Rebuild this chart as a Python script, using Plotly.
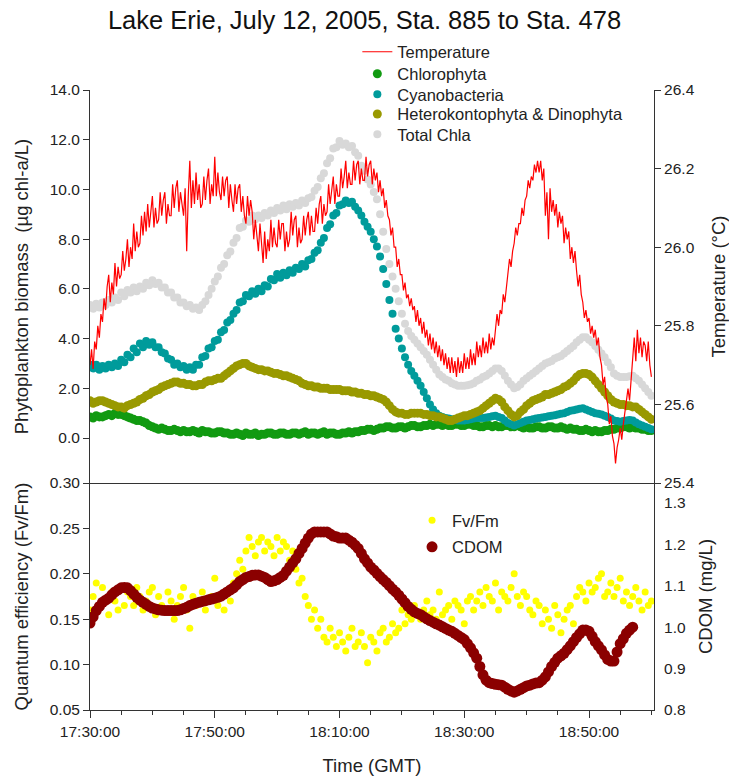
import pandas as pd
import plotly.graph_objects as go

# ---------------- data ----------------
t0 = pd.Timestamp("2005-07-12 17:30:00")
t_end = pd.Timestamp("2005-07-12 19:00:25")

# temperature (deg C), 15 s samples from 17:30:00
temperature_c = [
    25.70, 25.74, 25.69, 25.76, 25.74, 25.80, 25.77, 25.83,
    25.81, 25.87, 25.84, 25.90, 25.93, 25.86, 25.91, 25.88,
    25.96, 25.90, 25.95, 25.92, 25.93, 25.99, 25.94, 25.97,
    26.02, 25.95, 26.00, 25.97, 26.06, 25.99, 26.04, 26.00,
    26.01, 26.08, 26.03, 26.09, 26.04, 26.11, 26.05, 26.09,
    26.13, 26.05, 26.10, 26.06, 26.07, 26.14, 26.08, 26.12,
    26.14, 26.06, 26.11, 26.08, 26.08, 26.16, 26.10, 26.15,
    26.17, 26.09, 26.14, 26.11, 26.08, 26.15, 25.99, 26.13,
    26.22, 26.10, 26.17, 26.11, 26.19, 26.12, 26.16, 26.10,
    26.11, 26.18, 26.12, 26.17, 26.20, 26.11, 26.16, 26.13,
    26.23, 26.13, 26.19, 26.14, 26.12, 26.18, 26.13, 26.17,
    26.18, 26.10, 26.16, 26.12, 26.09, 26.16, 26.11, 26.15,
    26.16, 26.09, 26.13, 26.08, 26.06, 26.13, 26.08, 26.12,
    26.09, 26.02, 26.07, 26.03, 25.99, 26.06, 26.01, 25.96,
    26.04, 25.97, 26.02, 25.99, 26.07, 26.00, 26.05, 26.01,
    26.00, 26.07, 26.02, 26.06, 26.06, 25.99, 26.04, 26.00,
    26.02, 26.09, 26.03, 26.07, 26.08, 26.00, 26.05, 26.01,
    26.02, 26.08, 26.03, 26.07, 26.09, 26.03, 26.08, 26.04,
    26.04, 26.10, 26.06, 26.11, 26.13, 26.06, 26.11, 26.08,
    26.09, 26.16, 26.11, 26.14, 26.18, 26.11, 26.16, 26.13,
    26.13, 26.20, 26.15, 26.18, 26.22, 26.15, 26.19, 26.16,
    26.16, 26.22, 26.17, 26.21, 26.22, 26.16, 26.20, 26.17,
    26.17, 26.23, 26.18, 26.21, 26.22, 26.16, 26.20, 26.17,
    26.19, 26.14, 26.17, 26.13, 26.15, 26.10, 26.12, 26.08,
    26.07, 26.03, 26.05, 26.00, 26.00, 25.95, 25.97, 25.93,
    25.93, 25.89, 25.91, 25.87, 25.88, 25.85, 25.87, 25.84,
    25.85, 25.81, 25.84, 25.80, 25.82, 25.78, 25.81, 25.77,
    25.79, 25.75, 25.78, 25.74, 25.77, 25.73, 25.76, 25.72,
    25.75, 25.71, 25.74, 25.70, 25.73, 25.69, 25.72, 25.68,
    25.72, 25.68, 25.71, 25.67, 25.72, 25.68, 25.71, 25.68,
    25.73, 25.69, 25.72, 25.69, 25.74, 25.70, 25.73, 25.70,
    25.76, 25.72, 25.75, 25.72, 25.77, 25.73, 25.76, 25.73,
    25.78, 25.74, 25.77, 25.75, 25.79, 25.83, 25.80, 25.84,
    25.83, 25.88, 25.86, 25.90, 25.93, 25.97, 25.95, 25.99,
    26.01, 26.05, 26.03, 26.06, 26.06, 26.10, 26.08, 26.12,
    26.13, 26.17, 26.15, 26.18, 26.17, 26.21, 26.19, 26.22,
    26.19, 26.22, 26.17, 26.20, 26.08, 26.14, 26.02, 26.15,
    26.09, 26.12, 26.08, 26.11, 26.05, 26.09, 26.06, 26.08,
    26.01, 26.05, 26.02, 26.04, 25.97, 26.00, 25.96, 25.99,
    25.94, 25.90, 25.93, 25.88, 25.86, 25.82, 25.84, 25.81,
    25.82, 25.78, 25.80, 25.77, 25.79, 25.75, 25.77, 25.72,
    25.70, 25.65, 25.67, 25.62, 25.60, 25.55, 25.57, 25.52,
    25.50, 25.45, 25.49, 25.51, 25.54, 25.51, 25.55, 25.58,
    25.60, 25.64, 25.61, 25.67, 25.72, 25.77, 25.71, 25.79,
    25.73, 25.77, 25.72, 25.76, 25.75, 25.71, 25.76, 25.70,
    25.67,
]

# Cyanobacteria (ug chl-a/L), 30 s samples
cyanobacteria = [
    2.95, 2.80, 2.95, 2.75, 2.90, 2.80, 2.95, 2.85, 3.00, 2.90,
    3.15, 3.05, 3.35, 3.25, 3.60, 3.45, 3.80, 3.65, 3.90, 3.75,
    3.85, 3.65, 3.65, 3.45, 3.40, 3.20, 3.15, 2.95, 3.00, 2.85,
    2.90, 2.75, 2.85, 2.75, 2.95, 2.95, 3.25, 3.30, 3.60, 3.65,
    3.90, 3.95, 4.25, 4.35, 4.65, 4.75, 5.00, 5.15, 5.45, 5.50,
    5.75, 5.70, 5.90, 5.80, 6.00, 5.90, 6.15, 6.10, 6.40, 6.35,
    6.60, 6.45, 6.65, 6.55, 6.75, 6.65, 6.85, 6.80, 7.00, 6.90,
    7.15, 7.20, 7.45, 7.55, 7.85, 8.05, 8.45, 8.60, 8.95, 9.05,
    9.35, 9.40, 9.55, 9.45, 9.50, 9.30, 9.15, 8.95, 8.70, 8.50,
    8.30, 8.00, 7.70, 7.30, 6.80, 6.20, 5.55, 5.00, 4.40, 4.00,
    3.60, 3.25, 2.95, 2.70, 2.50, 2.30, 2.10, 1.85, 1.60, 1.35,
    1.15, 1.00, 0.90, 0.85, 0.80, 0.78, 0.75, 0.72, 0.70, 0.70,
    0.70, 0.72, 0.75, 0.78, 0.80, 0.80, 0.80, 0.82, 0.85, 0.88,
    0.90, 0.85, 0.80, 0.70, 0.60, 0.55, 0.50, 0.55, 0.60, 0.65,
    0.70, 0.72, 0.75, 0.78, 0.80, 0.82, 0.85, 0.88, 0.90, 0.92,
    0.95, 0.98, 1.00, 1.05, 1.10, 1.12, 1.15, 1.18, 1.20, 1.15,
    1.10, 1.05, 1.00, 0.98, 0.95, 0.90, 0.85, 0.78, 0.70, 0.68,
    0.65, 0.68, 0.70, 0.72, 0.70, 0.62, 0.55, 0.50, 0.45, 0.40,
    0.35,
]

# Total chlorophyll a (ug chl-a/L), 30 s samples
total_chla = [
    5.35, 5.20, 5.40, 5.25, 5.45, 5.35, 5.55, 5.45, 5.65, 5.55,
    5.85, 5.70, 5.95, 5.85, 6.05, 5.90, 6.10, 6.00, 6.25, 6.15,
    6.35, 6.20, 6.25, 6.05, 6.05, 5.85, 5.85, 5.65, 5.65, 5.45,
    5.45, 5.30, 5.35, 5.20, 5.25, 5.15, 5.35, 5.50, 5.75, 6.00,
    6.30, 6.50, 6.85, 7.00, 7.35, 7.50, 7.85, 8.05, 8.45, 8.50,
    8.75, 8.70, 8.95, 8.80, 8.95, 8.85, 9.05, 8.95, 9.15, 9.05,
    9.25, 9.15, 9.35, 9.20, 9.40, 9.30, 9.45, 9.35, 9.55, 9.45,
    9.65, 9.70, 9.95, 10.10, 10.45, 10.65, 11.05, 11.25, 11.65, 11.70,
    11.95, 11.80, 11.85, 11.70, 11.75, 11.50, 11.35, 10.95, 10.75, 10.40,
    10.20, 9.90, 9.60, 9.00, 8.30, 7.60, 7.00, 6.50, 6.00, 5.50,
    5.00, 4.60, 4.30, 4.10, 3.95, 3.80, 3.65, 3.50, 3.35, 3.15,
    2.95, 2.75, 2.55, 2.45, 2.35, 2.30, 2.20, 2.15, 2.10, 2.10,
    2.10, 2.12, 2.15, 2.20, 2.30, 2.35, 2.45, 2.50, 2.60, 2.70,
    2.80, 2.80, 2.70, 2.50, 2.30, 2.15, 2.00, 2.05, 2.15, 2.30,
    2.40, 2.50, 2.60, 2.70, 2.80, 2.90, 3.00, 3.05, 3.10, 3.20,
    3.25, 3.30, 3.40, 3.50, 3.60, 3.70, 3.85, 3.95, 4.05, 4.05,
    3.95, 3.85, 3.70, 3.55, 3.40, 3.25, 3.05, 2.85, 2.60, 2.50,
    2.45, 2.45, 2.45, 2.48, 2.50, 2.40, 2.30, 2.15, 2.00, 1.85,
    1.70,
]

# Chlorophyta (ug chl-a/L), 30 s samples
chlorophyta = [
    0.85, 0.80, 0.90, 0.85, 0.85, 0.90, 0.95, 0.90, 1.00, 0.95,
    0.95, 0.90, 0.85, 0.80, 0.75, 0.70, 0.70, 0.65, 0.60, 0.50,
    0.45, 0.40, 0.35, 0.40, 0.35, 0.30, 0.30, 0.35, 0.30, 0.25,
    0.30, 0.25, 0.25, 0.30, 0.25, 0.20, 0.30, 0.25, 0.25, 0.20,
    0.20, 0.25, 0.25, 0.20, 0.20, 0.15, 0.15, 0.20, 0.15, 0.10,
    0.20, 0.15, 0.15, 0.20, 0.10, 0.15, 0.15, 0.20, 0.20, 0.15,
    0.15, 0.20, 0.20, 0.15, 0.15, 0.20, 0.20, 0.15, 0.20, 0.25,
    0.15, 0.20, 0.20, 0.15, 0.20, 0.25, 0.15, 0.20, 0.20, 0.15,
    0.15, 0.20, 0.20, 0.25, 0.20, 0.25, 0.25, 0.30, 0.30, 0.35,
    0.35, 0.30, 0.35, 0.40, 0.40, 0.45, 0.45, 0.40, 0.40, 0.45,
    0.45, 0.40, 0.45, 0.50, 0.50, 0.45, 0.45, 0.50, 0.50, 0.55,
    0.50, 0.55, 0.55, 0.50, 0.55, 0.50, 0.50, 0.55, 0.55, 0.50,
    0.50, 0.55, 0.55, 0.50, 0.50, 0.45, 0.45, 0.50, 0.50, 0.45,
    0.50, 0.45, 0.45, 0.50, 0.50, 0.45, 0.45, 0.50, 0.45, 0.40,
    0.45, 0.40, 0.40, 0.45, 0.45, 0.40, 0.40, 0.45, 0.45, 0.40,
    0.40, 0.45, 0.40, 0.35, 0.40, 0.35, 0.35, 0.30, 0.30, 0.35,
    0.30, 0.25, 0.30, 0.25, 0.25, 0.30, 0.30, 0.35, 0.35, 0.40,
    0.40, 0.45, 0.45, 0.40, 0.45, 0.40, 0.40, 0.35, 0.35, 0.30,
    0.30,
]

# Heterokontophyta & Dinophyta (ug chl-a/L), 30 s samples
heterokontophyta_dinophyta = [
    1.50, 1.40, 1.45, 1.50, 1.50, 1.45, 1.40, 1.35, 1.30, 1.25,
    1.25, 1.20, 1.30, 1.35, 1.40, 1.45, 1.55, 1.60, 1.70, 1.75,
    1.85, 1.90, 1.95, 2.05, 2.10, 2.15, 2.20, 2.25, 2.25, 2.20,
    2.20, 2.15, 2.15, 2.10, 2.10, 2.15, 2.15, 2.25, 2.30, 2.30,
    2.35, 2.40, 2.40, 2.50, 2.60, 2.70, 2.80, 2.90, 2.95, 3.00,
    3.00, 2.90, 2.85, 2.80, 2.75, 2.75, 2.70, 2.70, 2.65, 2.60,
    2.60, 2.55, 2.50, 2.50, 2.45, 2.40, 2.35, 2.30, 2.20, 2.15,
    2.10, 2.10, 2.05, 2.05, 2.00, 2.00, 2.00, 1.95, 1.95, 1.95,
    1.95, 1.90, 1.90, 1.90, 1.85, 1.85, 1.80, 1.80, 1.75, 1.75,
    1.70, 1.70, 1.65, 1.60, 1.55, 1.45, 1.30, 1.15, 1.05, 1.00,
    1.00, 0.95, 0.95, 1.00, 1.00, 1.00, 1.00, 0.95, 0.95, 0.90,
    0.90, 0.85, 0.85, 0.80, 0.75, 0.70, 0.70, 0.75, 0.80, 0.85,
    0.90, 0.90, 0.95, 1.00, 1.05, 1.10, 1.20, 1.30, 1.40, 1.50,
    1.60, 1.55, 1.45, 1.25, 1.10, 0.95, 0.85, 0.90, 1.05, 1.15,
    1.30, 1.40, 1.50, 1.55, 1.60, 1.65, 1.75, 1.75, 1.80, 1.85,
    1.90, 1.95, 2.05, 2.10, 2.20, 2.30, 2.45, 2.55, 2.60, 2.60,
    2.55, 2.45, 2.30, 2.15, 2.00, 1.85, 1.70, 1.55, 1.45, 1.40,
    1.35, 1.35, 1.30, 1.30, 1.25, 1.25, 1.15, 1.05, 0.95, 0.85,
    0.75,
]

# Photosynthetic quantum efficiency Fv/Fm, 30 s samples
fv_fm = [
    0.160, 0.175, 0.190, 0.165, 0.185, 0.170, 0.155, 0.180, 0.170, 0.160,
    0.185, 0.165, 0.180, 0.175, 0.165, 0.185, 0.175, 0.160, 0.170, 0.180,
    0.185, 0.155, 0.175, 0.165, 0.160, 0.180, 0.170, 0.150, 0.165, 0.175,
    0.185, 0.160, 0.140, 0.175, 0.165, 0.170, 0.180, 0.160, 0.170, 0.175,
    0.195, 0.165, 0.175, 0.160, 0.180, 0.170, 0.190, 0.200, 0.215, 0.205,
    0.225, 0.240, 0.230, 0.220, 0.235, 0.240, 0.225, 0.235, 0.230, 0.220,
    0.240, 0.225, 0.235, 0.230, 0.215, 0.225, 0.205, 0.190, 0.195, 0.175,
    0.165, 0.150, 0.160, 0.140, 0.150, 0.130, 0.125, 0.140, 0.130, 0.120,
    0.135, 0.125, 0.115, 0.130, 0.140, 0.120, 0.125, 0.135, 0.120, 0.102,
    0.130, 0.125, 0.115, 0.135, 0.140, 0.125, 0.130, 0.145, 0.135, 0.140,
    0.160, 0.145, 0.155, 0.150, 0.165, 0.155, 0.150, 0.160, 0.170, 0.155,
    0.160, 0.150, 0.180, 0.155, 0.160, 0.165, 0.150, 0.170, 0.165, 0.160,
    0.145, 0.170, 0.175, 0.160, 0.170, 0.180, 0.165, 0.185, 0.175, 0.170,
    0.190, 0.160, 0.180, 0.175, 0.170, 0.185, 0.200, 0.175, 0.165, 0.180,
    0.175, 0.160, 0.155, 0.170, 0.165, 0.145, 0.160, 0.150, 0.140, 0.165,
    0.155, 0.135, 0.150, 0.160, 0.165, 0.145, 0.175, 0.185, 0.180, 0.170,
    0.190, 0.180, 0.185, 0.195, 0.200, 0.175, 0.180, 0.190, 0.175, 0.185,
    0.195, 0.170, 0.180, 0.165, 0.175, 0.185, 0.170, 0.160, 0.180, 0.165,
    0.170,
]

# CDOM (mg/L), 30 s samples
cdom = [
    1.010, 1.025, 1.040, 1.050, 1.060, 1.065, 1.070, 1.078, 1.085, 1.090,
    1.095, 1.096, 1.095, 1.088, 1.080, 1.072, 1.065, 1.060, 1.055, 1.050,
    1.046, 1.044, 1.042, 1.041, 1.040, 1.040, 1.040, 1.040, 1.040, 1.042,
    1.045, 1.048, 1.052, 1.055, 1.058, 1.060, 1.062, 1.064, 1.066, 1.068,
    1.070, 1.072, 1.075, 1.080, 1.085, 1.090, 1.095, 1.102, 1.110, 1.115,
    1.120, 1.122, 1.125, 1.126, 1.126, 1.123, 1.120, 1.115, 1.110, 1.112,
    1.115, 1.120, 1.125, 1.135, 1.145, 1.155, 1.165, 1.178, 1.190, 1.203,
    1.215, 1.225, 1.230, 1.230, 1.230, 1.230, 1.230, 1.225, 1.220, 1.218,
    1.215, 1.215, 1.215, 1.210, 1.205, 1.198, 1.190, 1.178, 1.165, 1.155,
    1.145, 1.138, 1.130, 1.122, 1.115, 1.108, 1.100, 1.092, 1.085, 1.077,
    1.068, 1.059, 1.050, 1.043, 1.037, 1.033, 1.030, 1.025, 1.020, 1.016,
    1.012, 1.008, 1.005, 1.001, 0.997, 0.993, 0.990, 0.985, 0.980, 0.975,
    0.970, 0.960, 0.950, 0.938, 0.925, 0.905, 0.885, 0.872, 0.866, 0.864,
    0.862, 0.861, 0.860, 0.855, 0.850, 0.846, 0.843, 0.846, 0.850, 0.854,
    0.858, 0.860, 0.863, 0.865, 0.866, 0.872, 0.880, 0.892, 0.905, 0.915,
    0.925, 0.931, 0.937, 0.946, 0.955, 0.965, 0.975, 0.984, 0.993, 0.993,
    0.990, 0.978, 0.965, 0.955, 0.945, 0.933, 0.922, 0.918, 0.918, 0.940,
    0.960, 0.972, 0.985, 0.993, 1.000,
]

# sampling times
t_15s = pd.date_range(t0, periods=len(temperature_c), freq="15s")
t_30s = pd.date_range(t0, periods=len(cyanobacteria), freq="30s")
t_cdom = pd.date_range(t0, periods=len(cdom), freq="30s")

# ---------------- styling ----------------
FONT = "Liberation Sans, Arial, sans-serif"
INK = "#222222"
AX = "#333333"

C_TEMP = "#ff0000"
C_CHLORO = "#119a11"
C_CYANO = "#009b9b"
C_HETERO = "#999900"
C_TOTAL = "#d8d8d8"
C_FVFM = "#ffff00"
C_CDOM = "#8b0000"

fig = go.Figure()

# --- upper panel: temperature (right axis) and pigment groups (left axis)
fig.add_trace(go.Scatter(
    x=t_15s, y=temperature_c, name="Temperature", mode="lines",
    line=dict(color=C_TEMP, width=1.2), xaxis="x2", yaxis="y4", legend="legend"))
fig.add_trace(go.Scatter(
    x=t_30s, y=chlorophyta, name="Chlorophyta", mode="markers",
    marker=dict(color=C_CHLORO, size=9), xaxis="x2", yaxis="y2", legend="legend4"))
fig.add_trace(go.Scatter(
    x=t_30s, y=cyanobacteria, name="Cyanobacteria", mode="markers",
    marker=dict(color=C_CYANO, size=8), xaxis="x2", yaxis="y2", legend="legend5"))
fig.add_trace(go.Scatter(
    x=t_30s, y=heterokontophyta_dinophyta, name="Heterokontophyta & Dinophyta",
    mode="markers", marker=dict(color=C_HETERO, size=9),
    xaxis="x2", yaxis="y2", legend="legend6"))
fig.add_trace(go.Scatter(
    x=t_30s, y=total_chla, name="Total Chla", mode="markers",
    marker=dict(color=C_TOTAL, size=8), xaxis="x2", yaxis="y2", legend="legend7"))

# --- lower panel: Fv/Fm (left axis) and CDOM (right axis)
fig.add_trace(go.Scatter(
    x=t_30s, y=fv_fm, name="Fv/Fm", mode="markers",
    marker=dict(color=C_FVFM, size=7), xaxis="x", yaxis="y", legend="legend2"))
fig.add_trace(go.Scatter(
    x=t_cdom, y=cdom, name="CDOM", mode="markers",
    marker=dict(color=C_CDOM, size=11), xaxis="x", yaxis="y3", legend="legend3"))

split = 227 / 620

tick_font = dict(family=FONT, size=15.5, color=INK)
title_font = dict(family=FONT, size=18.5, color=INK)
legend_font = dict(family=FONT, size=16.5, color=INK)

axis_common = dict(showgrid=False, zeroline=False, showline=True, automargin=False,
                   linecolor=AX, linewidth=1, tickcolor=AX, tickfont=tick_font)


def legend_box(x, y):
    return dict(x=x, y=y, xanchor="left", yanchor="top", bgcolor="rgba(0,0,0,0)",
                font=legend_font, itemsizing="trace")


fig.update_layout(
    width=729, height=776,
    margin=dict(l=90, r=75, t=90, b=66),
    paper_bgcolor="white", plot_bgcolor="white",
    font=dict(family=FONT, color=INK),
    title=dict(text="Lake Erie, July 12, 2005, Sta. 885 to Sta. 478",
               x=0.5, xref="container", xanchor="center",
               y=0.974, yref="container", yanchor="middle",
               font=dict(family=FONT, size=25.5, color="#111111")),
    showlegend=True,
    xaxis=dict(
        domain=[0, 1], anchor="y", type="date",
        range=[t0, t_end],
        tick0=t0, dtick=20 * 60 * 1000, tickformat="%H:%M:%S",
        ticks="outside", ticklen=7,
        minor=dict(ticks="outside", ticklen=4, tick0=t0, dtick=5 * 60 * 1000,
                   tickcolor=AX),
        title=dict(text="Time (GMT)", font=title_font, standoff=20),
        **axis_common),
    xaxis2=dict(
        domain=[0, 1], anchor="y2", type="date", matches="x",
        showticklabels=False, ticks="", **axis_common),
    yaxis=dict(
        domain=[0, split], anchor="x", range=[0.05, 0.30],
        tick0=0.05, dtick=0.05, tickformat=".2f", ticks="outside", ticklen=6,
        title=dict(text="Quantum efficiency (Fv/Fm)", font=title_font, standoff=16),
        **axis_common),
    yaxis2=dict(
        domain=[split, 1], anchor="x2", range=[-1.81, 14.0],
        tickvals=[0, 2, 4, 6, 8, 10, 12, 14], tickformat=".1f",
        ticks="outside", ticklen=6,
        title=dict(text="Phytoplankton biomass  (\u00b5g chl-a/L)", font=title_font,
                   standoff=16),
        **axis_common),
    yaxis3=dict(
        overlaying="y", side="right", anchor="x", range=[0.8, 1.348],
        tickvals=[0.8, 0.9, 1.0, 1.1, 1.2, 1.3], tickformat=".1f",
        ticks="outside", ticklen=6,
        title=dict(text="CDOM (mg/L)", font=title_font, standoff=14),
        **axis_common),
    yaxis4=dict(
        overlaying="y2", side="right", anchor="x2", range=[25.4, 26.4],
        tickvals=[25.4, 25.6, 25.8, 26.0, 26.2, 26.4], tickformat=".1f",
        ticks="outside", ticklen=6,
        title=dict(text="Temperature (\u00b0C)", font=title_font, standoff=19),
        **axis_common),
    # one legend box per entry so the row spacing can be set independently
    legend=legend_box(0.474, 1.0895),
    legend4=legend_box(0.474, 1.0540),
    legend5=legend_box(0.474, 1.0210),
    legend6=legend_box(0.474, 0.9890),
    legend7=legend_box(0.474, 0.9565),
    legend2=legend_box(0.571, 0.3340),
    legend3=legend_box(0.571, 0.2910),
)
# CDOM axis shows labels only: keep the tick spacing but hide the tick marks
fig.update_layout(yaxis3_tickcolor="rgba(0,0,0,0)")

fig.write_html("out.html")
